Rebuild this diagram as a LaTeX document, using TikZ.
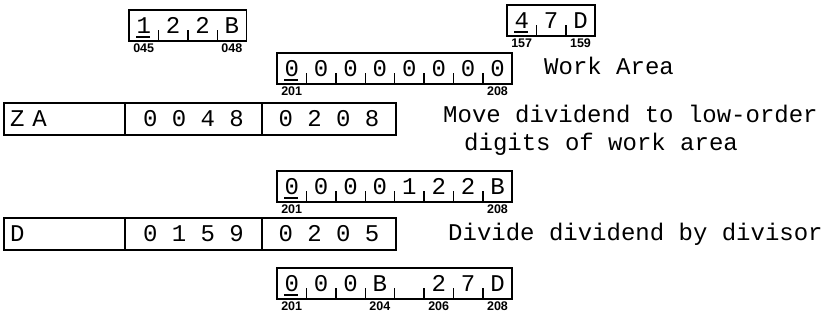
\documentclass[tikz,border=0pt]{standalone}
\usepackage{fontspec}
\setmonofont{Liberation Mono}
\newfontfamily\adrfont{Liberation Sans}
\usetikzlibrary{positioning}
\newcommand{\cw}{29.4}
\newcommand{\bh}{31}
\tikzset{
  cell/.style={minimum width=\cw pt,minimum height=\bh pt,inner sep=0pt,outer sep=0pt,text height=15pt,text depth=0pt,font=\ttfamily\fontsize{24}{28}\selectfont},
  fbox/.style={line width=1.5pt},
  tickline/.style={line width=1.4pt},
  wmark/.style={line width=1.6pt},
  adr/.style={font=\adrfont\bfseries\fontsize{12.5}{14}\selectfont,inner sep=0pt},
  ibox/.style={draw,line width=1.5pt,minimum height=32pt,inner sep=0pt,outer sep=0pt,text height=15pt,text depth=0pt,font=\ttfamily\fontsize{24}{28}\selectfont},
  note/.style={font=\ttfamily\fontsize{24}{28}\selectfont,inner sep=0pt,anchor=base west}
}
% one storage field: name, left x, top y, number of cells, characters
\newcommand{\field}[5]{%
  \foreach \sym [count=\i] in {#5} {\node[cell] (#1-\i) at ({#2+(\i-0.5)*\cw},{#3+\bh/2}) {\sym};}
  \draw[fbox] (#1-1.north west) rectangle (#1-#4.south east);
  \foreach \i in {2,...,#4} {\draw[tickline] (#1-\i.south west) -- ++(0,-11);}
  \draw[wmark] ([xshift=7pt,yshift=4pt]#1-1.south west) -- ++(14,0);
}

\begin{document}
\begin{tikzpicture}[x=1pt,y=-1pt]
  \useasboundingbox (0,0) rectangle (826,322);
  % dividend and divisor
  \field{dvd}{129}{10}{4}{1,2,2,B}
  \node[adr,below=3pt of dvd-1] (dvd-lo) {045}; \node[adr,below=3pt of dvd-4] (dvd-hi) {048};
  \field{dvs}{507}{5}{3}{4,7,D}
  \node[adr,below=3pt of dvs-1] (dvs-lo) {157}; \node[adr,below=3pt of dvs-3] (dvs-hi) {159};
  % work area
  \field{wa}{277}{53}{8}{0,0,0,0,0,0,0,0}
  \node[adr,below=3pt of wa-1] (wa-lo) {201}; \node[adr,below=3pt of wa-8] (wa-hi) {208};
  \node[note] (wa-txt) at (544,74) {Work Area};
  % zero and add
  \node[ibox,minimum width=121pt,text width=109pt,align=left] (za-op) at (64.5,119) {Z A};
  \node[ibox,minimum width=137pt,right=0pt of za-op] (za-a) {0 0 4 8};
  \node[ibox,minimum width=134pt,right=0pt of za-a] (za-b) {0 2 0 8};
  \node[note] (za-txt) at (443,122) {Move dividend to low-order};
  \node[note] (za-txt2) at (464,150) {digits of work area};
  \field{wb}{277}{171}{8}{0,0,0,0,1,2,2,B}
  \node[adr,below=3pt of wb-1] (wb-lo) {201}; \node[adr,below=3pt of wb-8] (wb-hi) {208};
  % divide
  \node[ibox,minimum width=121pt,text width=109pt,align=left] (dv-op) at (64.5,234) {D};
  \node[ibox,minimum width=137pt,right=0pt of dv-op] (dv-a) {0 1 5 9};
  \node[ibox,minimum width=134pt,right=0pt of dv-a] (dv-b) {0 2 0 5};
  \node[note] (dv-txt) at (448,240) {Divide dividend by divisor};
  \field{wc}{277}{268}{8}{0,0,0,B,{},2,7,D}
  \node[adr,below=3pt of wc-1] (wc-1l) {201}; \node[adr,below=3pt of wc-4] (wc-4l) {204};
  \node[adr,below=3pt of wc-6] (wc-6l) {206}; \node[adr,below=3pt of wc-8] (wc-8l) {208};
\end{tikzpicture}
\end{document}
